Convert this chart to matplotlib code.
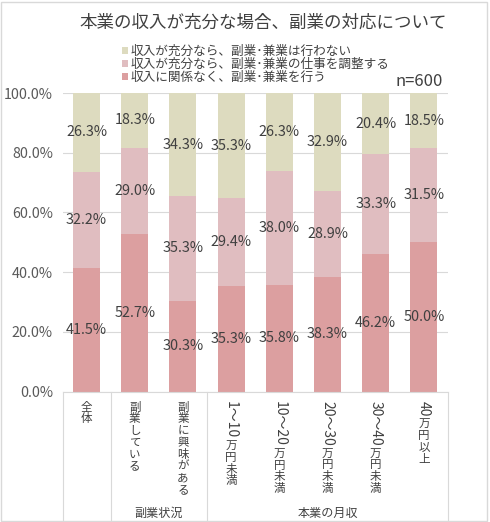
import re
import matplotlib
matplotlib.use('Agg')
import matplotlib.pyplot as plt
from matplotlib.patches import Rectangle
from matplotlib.font_manager import FontProperties
import matplotlib.transforms as mtransforms

plt.rcParams['font.family'] = ['Noto Sans CJK JP', 'DejaVu Sans']

# Data
categories = ['全体', '副業している', '副業に興味がある', '1～10万円未満',
              '10～20万円未満', '20～30万円未満', '30～40万円未満', '40万円以上']
do_anyway = [41.5, 52.7, 30.3, 35.3, 35.8, 38.3, 46.2, 50.0]
adjust = [32.2, 29.0, 35.3, 29.4, 38.0, 28.9, 33.3, 31.5]
not_do = [26.3, 18.3, 34.3, 35.3, 26.3, 32.9, 20.4, 18.5]
series_labels = ['収入が充分なら、副業･兼業は行わない',
                 '収入が充分なら、副業･兼業の仕事を調整する',
                 '収入に関係なく、副業･兼業を行う']
groups = ['副業状況', '本業の月収']
group_centers = [1.5, 5]
separators = [-0.5, 0.5, 2.5, 7.5]

col_top = '#dddbbf'
col_mid = '#e0bdc0'
col_bot = '#dc9fa0'
txt = '#404040'

fig = plt.figure(figsize=(4.9, 5.22), dpi=100)
ax = fig.add_axes([0.1276, 0.25, 0.7867, 0.5718])

x = list(range(len(categories)))
w = 0.56
b1 = ax.bar(x, do_anyway, w, color=col_bot, zorder=2)
b2 = ax.bar(x, adjust, w, bottom=do_anyway, color=col_mid, zorder=2)
base3 = [a + b for a, b in zip(do_anyway, adjust)]
b3 = ax.bar(x, not_do, w, bottom=base3, color=col_top, zorder=2)

# segment labels
for i in x:
    for val, bot in [(do_anyway[i], 0), (adjust[i], do_anyway[i]), (not_do[i], base3[i])]:
        ax.text(i, bot + val / 2, f'{val:.1f}%', ha='center', va='center',
                fontsize=10.4, color=txt, zorder=3)

ax.set_ylim(0, 100)
ax.set_xlim(-0.5, len(categories) - 0.5)
ax.set_yticks([0, 20, 40, 60, 80, 100])
ax.set_yticklabels([f'{v:.1f}%' for v in [0, 20, 40, 60, 80, 100]], fontsize=10.3, color='#595959')
ax.tick_params(axis='y', length=0, pad=7)
ax.tick_params(axis='x', length=0, labelbottom=False)
ax.grid(axis='y', color='#d9d9d9', linewidth=0.8, zorder=0)
for s in ['top', 'right', 'left']:
    ax.spines[s].set_visible(False)
ax.spines['bottom'].set_color('#d9d9d9')

# category separator lines below the axis
trans = mtransforms.blended_transform_factory(ax.transData, ax.transAxes)
for sx in separators:
    ax.plot([sx, sx], [0, -0.44], transform=trans, color='#d9d9d9', linewidth=0.8, clip_on=False)
for g, gx in zip(groups, group_centers):
    ax.text(gx, -0.408, g, transform=trans, ha='center', va='center', fontsize=8.7, color=txt)

# vertical (tategaki) category labels: kanji upright, digits turned
fs = 8.3
fs_num = 10.0
renderer = fig.canvas.get_renderer()
for i, lab in enumerate(categories):
    offset = 6.5
    for run in re.findall(r'[0-9～]+|.', lab):
        rotated = bool(re.match(r'[0-9～]', run))
        size = fs_num if rotated else fs
        ax.annotate(run, xy=(i, 0), xycoords=trans, xytext=(0, -offset),
                    textcoords='offset points', ha='center', va='top',
                    rotation=-90 if rotated else 0, fontsize=size, color=txt)
        if rotated:
            wpx, _, _ = renderer.get_text_width_height_descent(
                run, FontProperties(family=['Noto Sans CJK JP'], size=size), ismath=False)
            offset += wpx * 72 / fig.dpi + 1.0
        else:
            offset += fs * 1.02

# legend
handles = [b3, b2, b1]
fig.legend(handles, series_labels, loc='upper left', bbox_to_anchor=(0.236, 1 - 39 / 522),
           frameon=False, fontsize=9.1, handlelength=0.45, handleheight=0.45,
           handletextpad=0.25, labelspacing=0.0, borderpad=0, labelcolor=txt)

fig.text(263 / 490, 1 - 23 / 522, '本業の収入が充分な場合、副業の対応について',
         ha='center', va='center', fontsize=12.6, color=txt)
fig.text(443 / 490, 1 - 82 / 522, 'n=600', ha='right', va='center', fontsize=12, color=txt)

fig.patches.append(Rectangle((0.002, 0.002), 0.992, 0.994, transform=fig.transFigure,
                             fill=False, edgecolor='#d9d9d9', linewidth=1))

fig.savefig('out.png', dpi=100, facecolor='white')
